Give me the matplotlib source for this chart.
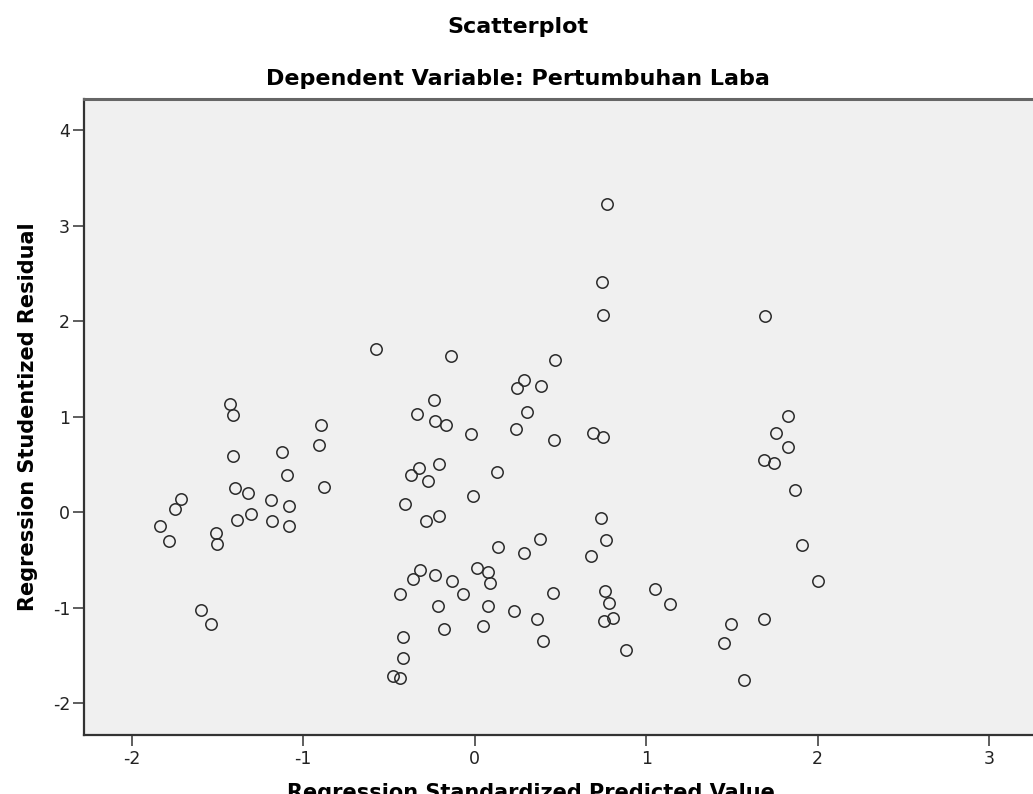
import numpy as np
import matplotlib
import matplotlib.pyplot as plt
matplotlib.use('Agg')

# regression standardized predicted value (x) and studentized residual (y)
pred = [-1.427, -1.411, -1.408, -1.399, -1.324, -1.304, -1.386, -1.713, -1.749, -1.835,
        -1.781, -1.507, -1.503, -1.594, -1.539, -1.124, -1.096, -1.190, -1.083, -1.184,
        -1.085, -0.896, -0.908, -0.877,
        0.748, 0.770, 0.740, -0.576, -0.138, 0.470, 0.286, 0.247, 0.387, -0.237,
        -0.336, -0.233, -0.169, 0.307, -0.020, 0.239, 0.464, 0.688, 0.748, -0.208,
        -0.327, -0.371, -0.271, 0.128, -0.010, -0.408, -0.210, -0.286, 0.735, 0.379,
        0.764, 0.138, 0.286, 0.678, 0.012, 0.076, 0.091, -0.319, -0.362, -0.231,
        -0.132, -0.437, -0.066, 0.455, -0.212, 0.079, 0.231, 0.362, 0.760, 0.781,
        1.050, 1.137, 0.752, 0.808, -0.177, 0.050, 0.400, 0.882, -0.416, -0.416,
        -0.476, -0.436,
        1.693, 1.829, 1.759, 1.829, 1.689, 1.747, 1.866, 1.910, 2.000, 1.493,
        1.685, 1.455, 1.572]
resid = [1.137, 1.014, 0.584, 0.253, 0.206, -0.017, -0.079, 0.133, 0.036, -0.150,
         -0.300, -0.219, -0.331, -1.030, -1.173, 0.626, 0.392, 0.130, 0.064, -0.090,
         -0.150, 0.913, 0.703, 0.259,
         2.069, 3.233, 2.410, 1.705, 1.640, 1.594, 1.385, 1.301, 1.322, 1.171,
         1.031, 0.951, 0.909, 1.045, 0.822, 0.874, 0.756, 0.825, 0.790, 0.507,
         0.462, 0.389, 0.322, 0.423, 0.169, 0.088, -0.035, -0.097, -0.062, -0.276,
         -0.292, -0.360, -0.429, -0.457, -0.583, -0.622, -0.740, -0.607, -0.701, -0.659,
         -0.716, -0.855, -0.858, -0.845, -0.988, -0.988, -1.037, -1.121, -0.831, -0.947,
         -0.803, -0.963, -1.138, -1.110, -1.222, -1.188, -1.345, -1.439, -1.313, -1.529,
         -1.715, -1.733,
         2.051, 1.007, 0.829, 0.686, 0.546, 0.515, 0.232, -0.339, -0.722, -1.170,
         -1.117, -1.366, -1.754]

x_ticks = [-2, -1, 0, 1, 2, 3]
y_ticks = [-2, -1, 0, 1, 2, 3, 4]

W, H = 1033, 794
fig = plt.figure(figsize=(W / 100, H / 100), dpi=100)
# plot area runs off the right edge of the picture
ax = fig.add_axes([84 / W, 1 - 735 / H, (1060 - 84) / W, (735 - 99) / H])
ax.set_facecolor('#f0f0f0')

ax.plot(pred, resid, linestyle='none', marker='o', markersize=8.2,
        markerfacecolor='none', markeredgecolor='#2a2a2a', markeredgewidth=1.1)

ax.set_xlim(-2.278, 3.413)
ax.set_ylim(-2.335, 4.33)
ax.set_xticks(x_ticks)
ax.set_yticks(y_ticks)
ax.set_xticklabels([str(v) for v in x_ticks])
ax.set_yticklabels([str(v) for v in y_ticks])
ax.tick_params(length=8, width=1.1, color='#333333', labelsize=12.5, labelcolor='#222222')
ax.tick_params(axis='x', pad=3)
ax.tick_params(axis='y', pad=2)

for s in ['left', 'bottom']:
    ax.spines[s].set_color('#333333')
    ax.spines[s].set_linewidth(1.6)
ax.spines['top'].set_color('#666666')
ax.spines['top'].set_linewidth(2.2)
ax.spines['right'].set_visible(False)

fig.text(518 / W, 1 - 27 / H, 'Scatterplot', ha='center', va='center',
         fontsize=16, fontweight='bold', family='DejaVu Sans')
fig.text(518 / W, 1 - 79 / H, 'Dependent Variable: Pertumbuhan Laba', ha='center', va='center',
         fontsize=16, fontweight='bold', family='DejaVu Sans')
fig.text(28 / W, 1 - 417 / H, 'Regression Studentized Residual', ha='center', va='center',
         rotation=90, fontsize=15, fontweight='bold', family='DejaVu Sans')
fig.text(531 / W, 1 - 799 / H, 'Regression Standardized Predicted Value', ha='center',
         va='baseline', fontsize=15, fontweight='bold', family='DejaVu Sans')

plt.savefig('out.png', dpi=100)
